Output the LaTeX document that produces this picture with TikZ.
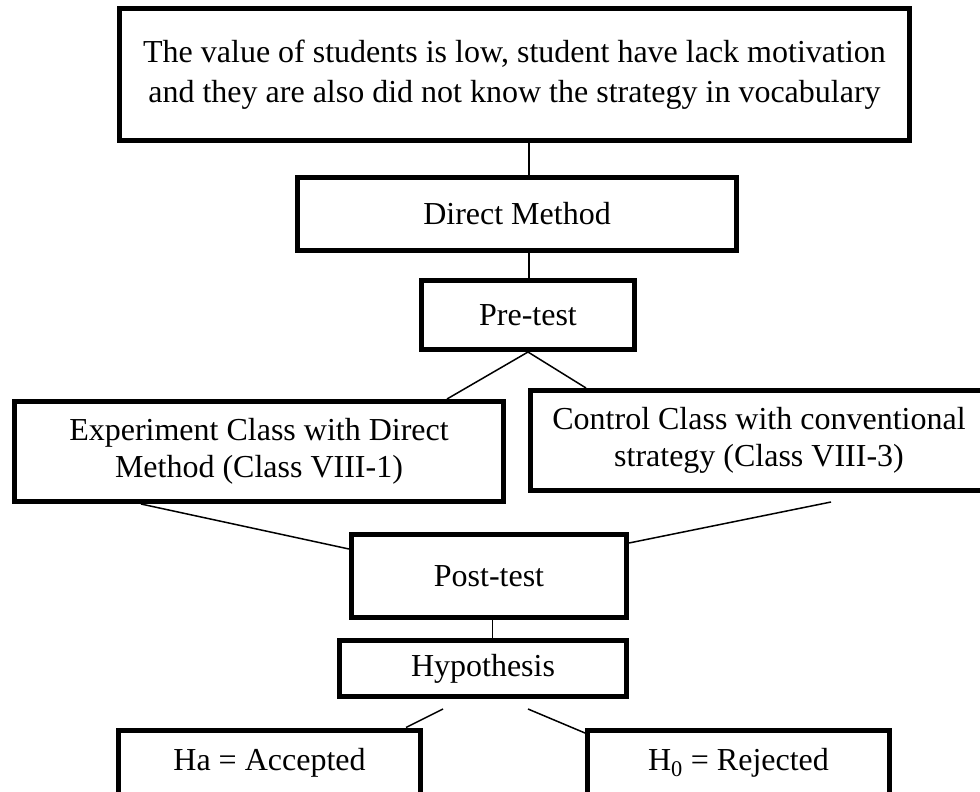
\documentclass[tikz,border=0pt]{standalone}
\usepackage{fontspec}
\setmainfont{Liberation Serif}
\begin{document}
\begin{tikzpicture}[x=1pt,y=-1pt,
  box/.style={draw, line width=5pt, inner sep=0pt, align=center,
    font=\fontsize{32}{37}\selectfont},
  low/.style={text height=22pt, text depth=9pt},
  conn/.style={line width=1.5pt}]
\useasboundingbox (0,0) rectangle (980,792);
\node[box, font=\fontsize{32}{40}\selectfont, minimum width=790pt, minimum height=132pt] (top) at (514.5,74.5)
  {The value of students is low, student have lack motivation\\and they are also did not know the strategy in vocabulary};
\node[box, minimum width=439pt, minimum height=73pt] (dm) at (517,214) {Direct Method};
\node[box, minimum width=213pt, minimum height=69pt] (pre) at (528,315) {Pre-test};
\node[box, minimum width=489pt, minimum height=100pt] (exp) at (259,451.5)
  {Experiment Class with Direct\\Method (Class VIII-1)};
\node[box, minimum width=457pt, minimum height=100pt] (ctrl) at (759,440.5)
  {Control Class with conventional\\strategy (Class VIII-3)};
\node[box, minimum width=275pt, minimum height=83pt] (post) at (489,576) {Post-test};
\node[box, minimum width=287pt, minimum height=56pt] (hyp) at (483,668.5) {Hypothesis};
\node[box, low, minimum width=302pt, minimum height=67pt] (ha) at (269.5,763.5) {Ha = Accepted};
\node[box, low, minimum width=302pt, minimum height=67pt] (h0) at (738.5,763.5) {H\textsubscript{0} = Rejected};
\coordinate (v1) at (529,0);
\coordinate (v2) at (492.5,0);
\coordinate (cr) at (831,502);
\coordinate (hl) at (443,709);
\coordinate (hr) at (528,709);
\draw[conn] (top.south -| v1) -- (dm.north -| v1);
\draw[conn] (dm.south -| v1) -- (pre.north -| v1);
\draw[conn] (pre.south) -- (exp.north -| 447,0);
\draw[conn] (pre.south) -- (ctrl.north -| 586,0);
\draw[conn] (exp.south -| 141,0) -- (post.west |- 0,549);
\draw[conn] (cr) -- (post.east |- 0,543);
\draw[conn] (post.south -| v2) -- (hyp.north -| v2);
\draw[conn] (hl) -- (ha.north -| 406,0);
\draw[conn] (hr) -- (h0.west |- 0,733);
\end{tikzpicture}
\end{document}
